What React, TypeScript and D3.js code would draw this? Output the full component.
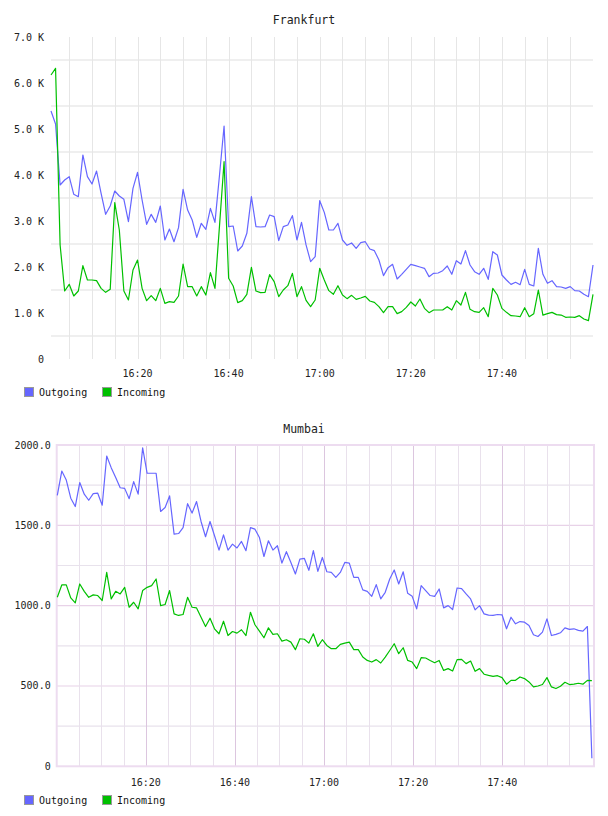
import React, { useEffect, useRef } from 'react'
import * as d3 from 'd3'

// one sample per minute
const frankfurtOutgoing = [
  5391, 5109, 3783, 3891, 3964, 3580, 3529, 4435, 3964, 3804, 4087, 3600, 3145, 3326, 3652, 3543, 3471, 2985, 3710, 4058,
  3457, 2928, 3145, 2971, 3326, 2587, 2826, 2550, 2855, 3688, 3239, 3022, 2645, 2950, 2819, 3275, 2971, 4000, 5065, 2877,
  2891, 2348, 2457, 2732, 3529, 2877, 2870, 2877, 3130, 3094, 2572, 2877, 2913, 3116, 2587, 2971, 2480, 2116, 2224, 3442,
  3188, 2804, 2804, 2950, 2587, 2471, 2522, 2406, 2529, 2550, 2391, 2355, 2152, 1812, 1986, 2058, 1739, 1841, 1949, 2058,
  2029, 2000, 1971, 1790, 1862, 1870, 1920, 2022, 1841, 2138, 2065, 2355, 2043, 1899, 1841, 1971, 1732, 2333, 2261, 1826,
  1717, 1623, 1667, 1616, 1949, 1623, 1587, 2406, 1841, 1645, 1703, 1573, 1565, 1536, 1573, 1486, 1478, 1406, 1355, 2043,
]
const frankfurtIncoming = [
  6174, 6319, 2478, 1478, 1623, 1370, 1478, 2029, 1717, 1717, 1703, 1536, 1449, 1514, 3399, 2804, 1478, 1283, 1935, 2152,
  1536, 1268, 1377, 1268, 1536, 1210, 1246, 1232, 1370, 2065, 1573, 1573, 1370, 1573, 1391, 1877, 1536, 2900, 4290, 1754,
  1587, 1225, 1268, 1406, 1993, 1478, 1442, 1449, 1833, 1681, 1355, 1500, 1594, 1862, 1355, 1573, 1275, 1138, 1283, 1971,
  1717, 1486, 1406, 1594, 1391, 1312, 1384, 1297, 1326, 1362, 1261, 1232, 1138, 1007, 1138, 1138, 986, 1029, 1123, 1239,
  1152, 1304, 1101, 1007, 1065, 1065, 1065, 1138, 1065, 1268, 1174, 1449, 1080, 1029, 1014, 1116, 920, 1536, 1391, 1101,
  1014, 942, 935, 920, 1116, 920, 986, 1500, 955, 986, 1014, 964, 955, 906, 913, 906, 942, 870, 833, 1406,
]
const mumbaiOutgoing = [
  1687, 1838, 1782, 1669, 1617, 1766, 1694, 1656, 1697, 1700, 1625, 1931, 1859, 1797, 1734, 1730, 1666, 1772, 1694, 1983,
  1824, 1824, 1824, 1586, 1611, 1683, 1445, 1449, 1486, 1635, 1576, 1648, 1524, 1429, 1524, 1435, 1346, 1441, 1346, 1383,
  1359, 1400, 1342, 1486, 1476, 1424, 1306, 1404, 1346, 1373, 1265, 1336, 1269, 1197, 1290, 1294, 1220, 1342, 1213, 1300,
  1211, 1207, 1176, 1207, 1269, 1265, 1176, 1176, 1098, 1089, 1058, 1131, 1042, 1083, 1166, 1222, 1135, 1211, 1077, 1058,
  980, 1125, 1094, 1063, 1058, 1104, 986, 1000, 976, 1110, 1106, 1073, 1042, 974, 1000, 949, 941, 939, 945, 943,
  856, 928, 887, 901, 897, 876, 819, 808, 835, 918, 814, 821, 831, 862, 852, 856, 846, 841, 870, 50,
]
const mumbaiIncoming = [
  1052, 1129, 1129, 1048, 1017, 1135, 1089, 1052, 1067, 1063, 1032, 1207, 1042, 1089, 1073, 1114, 990, 1021, 980, 1094,
  1114, 1125, 1166, 1000, 1007, 1094, 949, 939, 945, 1052, 990, 986, 928, 870, 922, 856, 825, 903, 814, 839,
  829, 850, 814, 959, 881, 841, 800, 862, 821, 825, 779, 788, 773, 726, 794, 791, 767, 825, 746, 788,
  752, 732, 732, 759, 767, 773, 726, 726, 680, 659, 649, 664, 643, 680, 721, 763, 701, 738, 659, 649,
  608, 676, 674, 659, 645, 659, 597, 608, 593, 664, 666, 639, 655, 591, 608, 573, 566, 560, 564, 552,
  511, 535, 535, 556, 546, 525, 494, 500, 509, 552, 494, 484, 498, 523, 509, 511, 517, 511, 535, 533,
]

const seriesNames = ['Outgoing', 'Incoming']
const seriesColors = ['#6666ff', '#00c000']
const frankfurtTicks = [0, 1000, 2000, 3000, 4000, 5000, 6000, 7000]
const frankfurtGrid = [500, 1500, 2500, 3500, 4500, 5500, 6500]
const mumbaiTicks = [0, 500, 1000, 1500, 2000]
const mumbaiGrid = [250, 500, 750, 1000, 1250, 1500, 1750]

const FONT = '"DejaVu Sans Mono", monospace'

interface Panel {
  title: string
  titleY: number
  left: number
  right: number
  top: number
  bottom: number
  yMax: number
  yTicks: number[]
  yGrid: number[]
  yFormat: (v: number) => string
  labelX: number
  domain: [Date, Date]
  start: Date
  stepSec: number
  series: number[][]
  xLabelY: number
  legendY: number
  framed: boolean
}

const day = (h: number, m: number, s = 0) => new Date(2020, 0, 1, h, m, s)

const panels: Panel[] = [
  {
    title: 'Frankfurt',
    titleY: 20,
    left: 51,
    right: 593,
    top: 37,
    bottom: 359,
    yMax: 7000,
    yTicks: frankfurtTicks,
    yGrid: frankfurtGrid,
    yFormat: (v) => (v === 0 ? '0' : `${(v / 1000).toFixed(1)} K`),
    labelX: 44,
    domain: [day(16, 1), day(18, 0)],
    start: day(16, 1),
    stepSec: 60,
    series: [frankfurtOutgoing, frankfurtIncoming],
    xLabelY: 373,
    legendY: 392,
    framed: false,
  },
  {
    title: 'Mumbai',
    titleY: 429,
    left: 56.7,
    right: 594,
    top: 445,
    bottom: 766.3,
    yMax: 2000,
    yTicks: mumbaiTicks,
    yGrid: mumbaiGrid,
    yFormat: (v) => (v === 0 ? '0' : v.toFixed(1)),
    labelX: 50.7,
    domain: [day(16, 0), day(18, 0, 36)],
    start: day(16, 0, 8),
    stepSec: 60.5,
    series: [mumbaiOutgoing, mumbaiIncoming],
    xLabelY: 782,
    legendY: 800,
    framed: true,
  },
]

function drawPanel(svg: d3.Selection<SVGSVGElement, unknown, null, undefined>, p: Panel) {
  const g = svg.append('g')

  const x = d3.scaleTime().domain(p.domain).range([p.left, p.right])
  const y = d3.scaleLinear().domain([0, p.yMax]).range([p.bottom, p.top])

  // horizontal grid
  g.selectAll('.hgrid')
    .data(p.yGrid)
    .join('line')
    .attr('x1', p.left)
    .attr('x2', p.right)
    .attr('y1', (d) => y(d))
    .attr('y2', (d) => y(d))
    .attr('stroke', (d) => (p.framed ? (d % 500 === 0 ? '#e8d2e8' : '#e8e2ec') : '#efefef'))
    .attr('stroke-width', p.framed ? 1.2 : 2)

  // vertical grid every 5 minutes, inside the plot only
  const inside = (t: Date) => x(t) > p.left + 2 && x(t) < p.right - 4
  const minor = d3.timeMinute.every(5)!.range(p.domain[0], p.domain[1]).filter(inside)
  g.selectAll('.vgrid')
    .data(minor)
    .join('line')
    .attr('x1', (d) => Math.round(x(d)) + 0.5)
    .attr('x2', (d) => Math.round(x(d)) + 0.5)
    .attr('y1', p.top)
    .attr('y2', p.bottom)
    .attr('stroke', (d) =>
      p.framed ? (d.getMinutes() % 20 === 0 ? '#dcc6df' : '#e9e1ec') : '#e6e6e6'
    )
    .attr('stroke-width', 1)

  if (p.framed) {
    g.append('rect')
      .attr('x', p.left)
      .attr('y', p.top)
      .attr('width', p.right - p.left)
      .attr('height', p.bottom - p.top)
      .attr('fill', 'none')
      .attr('stroke', '#eddcf0')
      .attr('stroke-width', 2)
  }

  // y labels
  g.selectAll('.ylab')
    .data(p.yTicks)
    .join('text')
    .attr('x', p.labelX)
    .attr('y', (d) => y(d))
    .attr('dy', '0.35em')
    .attr('text-anchor', 'end')
    .attr('font-family', FONT)
    .attr('font-size', '10px')
    .attr('fill', '#222')
    .text((d) => p.yFormat(d))

  // x labels every 20 minutes
  const major = d3.timeMinute
    .every(20)!
    .range(p.domain[0], p.domain[1])
    .filter((t) => x(t) > p.left + 20 && x(t) < p.right - 20)
  g.selectAll('.xlab')
    .data(major)
    .join('text')
    .attr('x', (d) => x(d))
    .attr('y', p.xLabelY)
    .attr('dy', '0.35em')
    .attr('text-anchor', 'middle')
    .attr('font-family', FONT)
    .attr('font-size', '10px')
    .attr('fill', '#222')
    .text((d) => d3.timeFormat('%H:%M')(d))

  // series lines
  p.series.forEach((values, si) => {
    const times = values.map((_, i) => new Date(p.start.getTime() + i * p.stepSec * 1000))
    const line = d3
      .line<number>()
      .x((_, i) => x(times[i]))
      .y((d) => y(d))
    g.append('path')
      .datum(values)
      .attr('fill', 'none')
      .attr('stroke', seriesColors[si])
      .attr('stroke-width', 1.2)
      .attr('stroke-linejoin', 'round')
      .attr('d', line)
  })

  // title
  g.append('text')
    .attr('x', 304)
    .attr('y', p.titleY)
    .attr('dy', '0.35em')
    .attr('text-anchor', 'middle')
    .attr('font-family', FONT)
    .attr('font-size', '11.5px')
    .attr('fill', '#222')
    .text(p.title)

  // legend
  const legendX = [24.5, 102.5]
  seriesNames.forEach((name, i) => {
    g.append('rect')
      .attr('x', legendX[i])
      .attr('y', p.legendY - 4.5)
      .attr('width', 9)
      .attr('height', 9)
      .attr('fill', seriesColors[i])
      .attr('stroke', '#999')
      .attr('stroke-width', 1)
    g.append('text')
      .attr('x', legendX[i] + 14.5)
      .attr('y', p.legendY)
      .attr('dy', '0.35em')
      .attr('font-family', FONT)
      .attr('font-size', '10px')
      .attr('fill', '#111')
      .text(name)
  })
}

export default function App() {
  const svgRef = useRef<SVGSVGElement>(null)

  useEffect(() => {
    if (!svgRef.current) return
    const svg = d3.select(svgRef.current)
    svg.selectAll('*').remove()
    panels.forEach((p) => drawPanel(svg, p))
  }, [])

  return (
    <svg
      ref={svgRef}
      width={608}
      height={816}
      style={{ position: 'absolute', left: 0, top: 0, background: '#fff' }}
    />
  )
}
